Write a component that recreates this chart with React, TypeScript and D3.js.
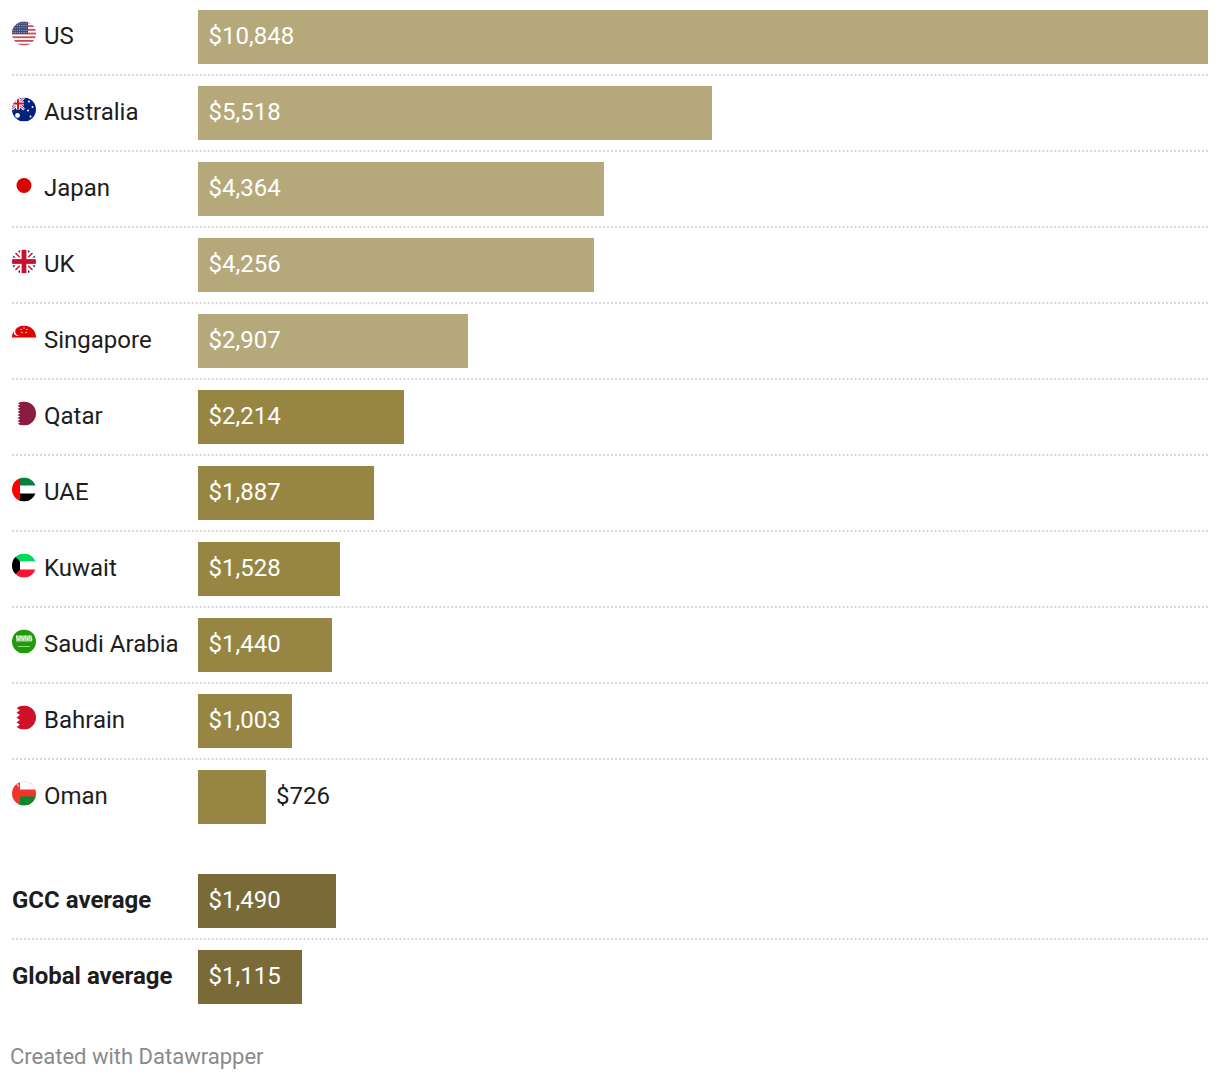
import React from "react";
import * as d3 from "d3";

const countries = ["US", "Australia", "Japan", "UK", "Singapore", "Qatar", "UAE", "Kuwait", "Saudi Arabia", "Bahrain", "Oman"];
const countryValues = [10848, 5518, 4364, 4256, 2907, 2214, 1887, 1528, 1440, 1003, 726];
const countryTier = ["a", "a", "a", "a", "a", "b", "b", "b", "b", "b", "b"];
const averages = ["GCC average", "Global average"];
const averageValues = [1490, 1115];

const W = 610, H = 540;
const fmt = d3.format("$,");
const FONT = "Roboto, sans-serif";
const tierColor: Record<string, string> = { a: "#b5a97c", b: "#978643", c: "#7a6a37" };

const x = d3.scaleLinear().domain([0, 10848]).rangeRound([99, 604]);
const rowTop = d3.scaleLinear().domain([0, 1]).range([5, 43]);
const BAR_H = 27;

function toothPath(xl: number, xr: number, teeth: number, depth: number) {
  const step = 24 / teeth;
  let p = `M${xr},-12 L${xl + depth},-12`;
  for (let i = 0; i < teeth; i++) {
    const y0 = -12 + i * step;
    p += ` L${xl},${y0 + step / 2} L${xl + depth},${y0 + step}`;
  }
  return p + ` L${xr},12 Z`;
}

function Flag({ name }: { name: string }) {
  const r = (x: number, y: number, w: number, h: number, f: string, k?: any) => <rect key={k} x={x} y={y} width={w} height={h} fill={f} />;
  const id = "c" + name.replace(/\s/g, "");
  let body: React.ReactNode = null;
  if (name === "US") {
    const stripes = d3.range(7).map((i) => r(-12, -12 + i * 3.7, 24, 1.85, "#c9505f", i));
    const dots = d3.range(5).flatMap((j) => d3.range(7).map((i) => <circle key={`${i}-${j}`} cx={-11 + i * 2.2} cy={-10.5 + j * 2.4} r={0.55} fill="#b9c0d6" />));
    body = <>{r(-12, -12, 24, 24, "#fff")}{stripes}{r(-12, -12, 16, 12.5, "#3c4a7a")}{dots}</>;
  } else if (name === "Australia") {
    const stars = [[5, -8], [8.5, -2.5], [4, 1], [6.5, 7]].map(([a, b], i) => <circle key={i} cx={a} cy={b} r={0.95} fill="#fff" />);
    body = <>{r(-12, -12, 24, 24, "#00247d")}
      <path d="M-12,-12 L0,0 M0,-12 L-12,0" stroke="#fff" strokeWidth={2.6} />
      <path d="M-12,-12 L0,0 M0,-12 L-12,0" stroke="#cf142b" strokeWidth={1} />
      {r(-8, -12, 4, 12, "#fff")}{r(-12, -8, 12, 4, "#fff")}{r(-7, -12, 2, 12, "#cf142b")}{r(-12, -7, 12, 2, "#cf142b")}
      <circle cx={-6.5} cy={6} r={2.4} fill="#fff" />{stars}</>;
  } else if (name === "Japan") {
    body = <circle r={7.5} fill="#d90000" />;
  } else if (name === "UK") {
    body = <>{r(-12, -12, 24, 24, "#fff")}
      <path d="M-7.5,-12 L-3.5,-8 L-3.5,-12 Z M7.5,-12 L3.5,-8 L3.5,-12 Z M-7.5,12 L-3.5,8 L-3.5,12 Z M7.5,12 L3.5,8 L3.5,12 Z M-12,-7.5 L-8,-3.5 L-12,-3.5 Z M12,-7.5 L8,-3.5 L12,-3.5 Z M-12,7.5 L-8,3.5 L-12,3.5 Z M12,7.5 L8,3.5 L12,3.5 Z" fill="#012169" />
      <path d="M-12,-12 L12,12 M12,-12 L-12,12" stroke="#c8102e" strokeWidth={1.4} />
      {r(-4, -12, 8, 24, "#fff")}{r(-12, -4, 24, 8, "#fff")}{r(-2.4, -12, 4.8, 24, "#c8102e")}{r(-12, -2.4, 24, 4.8, "#c8102e")}</>;
  } else if (name === "Singapore") {
    const stars = [[-3, -8], [0, -9.5], [3, -8], [-2, -5], [2, -5]].map(([a, b], i) => <circle key={i} cx={a} cy={b} r={0.7} fill="#fff" />);
    body = <>{r(-12, -12, 24, 12, "#e00000")}<circle cx={-6} cy={-6} r={4.6} fill="#fff" /><circle cx={-4.4} cy={-6} r={4.4} fill="#e00000" />{stars}</>;
  } else if (name === "Qatar") {
    body = <path d={toothPath(-6.5, 12, 8, 2.6)} fill="#8a1c40" />;
  } else if (name === "UAE") {
    body = <>{r(-12, -12, 24, 24, "#fff")}{r(-4, -12, 16, 8, "#04803f")}{r(-4, 4, 16, 8, "#000")}{r(-12, -12, 8, 24, "#fe0000")}</>;
  } else if (name === "Kuwait") {
    body = <>{r(-12, -12, 24, 8, "#00d95a")}{r(-12, -4, 24, 8, "#fff")}{r(-12, 4, 24, 8, "#f9152f")}<path d="M-12,-12 L-4,-4 L-4,4 L-12,12 Z" fill="#000" /></>;
  } else if (name === "Saudi Arabia") {
    const script = d3.range(8).map((i) => r(-8 + i * 2.15, -6 + (i % 2) * 2.5, 1.2, 2.6, "#eef7ea", i));
    body = <>{r(-12, -12, 24, 24, "#1f9c0a")}{r(-8, -6, 16, 6, "#a9d79c")}{script}{r(-6, 4.5, 12, 0.7, "#cfe8c8")}</>;
  } else if (name === "Bahrain") {
    body = <path d={toothPath(-7.5, 12, 5, 3.4)} fill="#ce1126" />;
  } else if (name === "Oman") {
    body = <>{r(-12, -12, 24, 24, "#f2352c")}{r(-4, -12, 16, 8, "#ffffff")}{r(-4, 3, 16, 9, "#088930")}<path d="M-9,-12 L-5,-7" stroke="#f8b0a8" strokeWidth={1.4} /></>;
  }
  return (
    <>
      <clipPath id={id}><circle r={12} /></clipPath>
      <g clipPath={`url(#${id})`}>{body}</g>
    </>
  );
}

function Row({ label, value, top, color, bold, flag }: any) {
  const w = x(value) - x(0);
  const inside = w > 40;
  const ty = top + 17;
  return (
    <g>
      {flag && <g transform={`translate(12,${top + 11.75}) scale(0.5)`}><Flag name={label} /></g>}
      <text x={flag ? 22 : 6} y={ty} fontFamily={FONT} fontSize={12} fontWeight={bold ? 700 : 400} fill="#1d1d1d">{label}</text>
      <rect x={x(0)} y={top} width={w} height={BAR_H} fill={color} />
      <text x={inside ? x(0) + 5.25 : x(value) + 5} y={ty} fontFamily={FONT} fontSize={12} fill={inside ? "#fff" : "#1d1d1d"}>{fmt(value)}</text>
    </g>
  );
}

export default function App() {
  const step = rowTop(1) - rowTop(0);
  const tops = countries.map((_, i) => rowTop(0) + i * step);
  const avgTops = [437, 475];
  const ruleYs = tops.slice(0, -1).concat([avgTops[0]]).map((t) => t + 32.5);
  return (
    <svg width={W * 2} height={H * 2} viewBox={`0 0 ${W} ${H}`} style={{ position: "absolute", left: 0, top: 0, background: "#fff" }}>
      {ruleYs.map((y, i) => (
        <line key={i} x1={6} x2={604} y1={y} y2={y} stroke="#d6d6d6" strokeWidth={1} strokeDasharray="1 0.9967" />
      ))}
      {countries.map((c, i) => (
        <Row key={c} label={c} value={countryValues[i]} top={tops[i]} color={tierColor[countryTier[i]]} flag />
      ))}
      {averages.map((c, i) => (
        <Row key={c} label={c} value={averageValues[i]} top={avgTops[i]} color={tierColor.c} bold />
      ))}
      <text x={5} y={532} fontFamily={FONT} fontSize={11} fill="#8a8a8a">Created with Datawrapper</text>
    </svg>
  );
}
